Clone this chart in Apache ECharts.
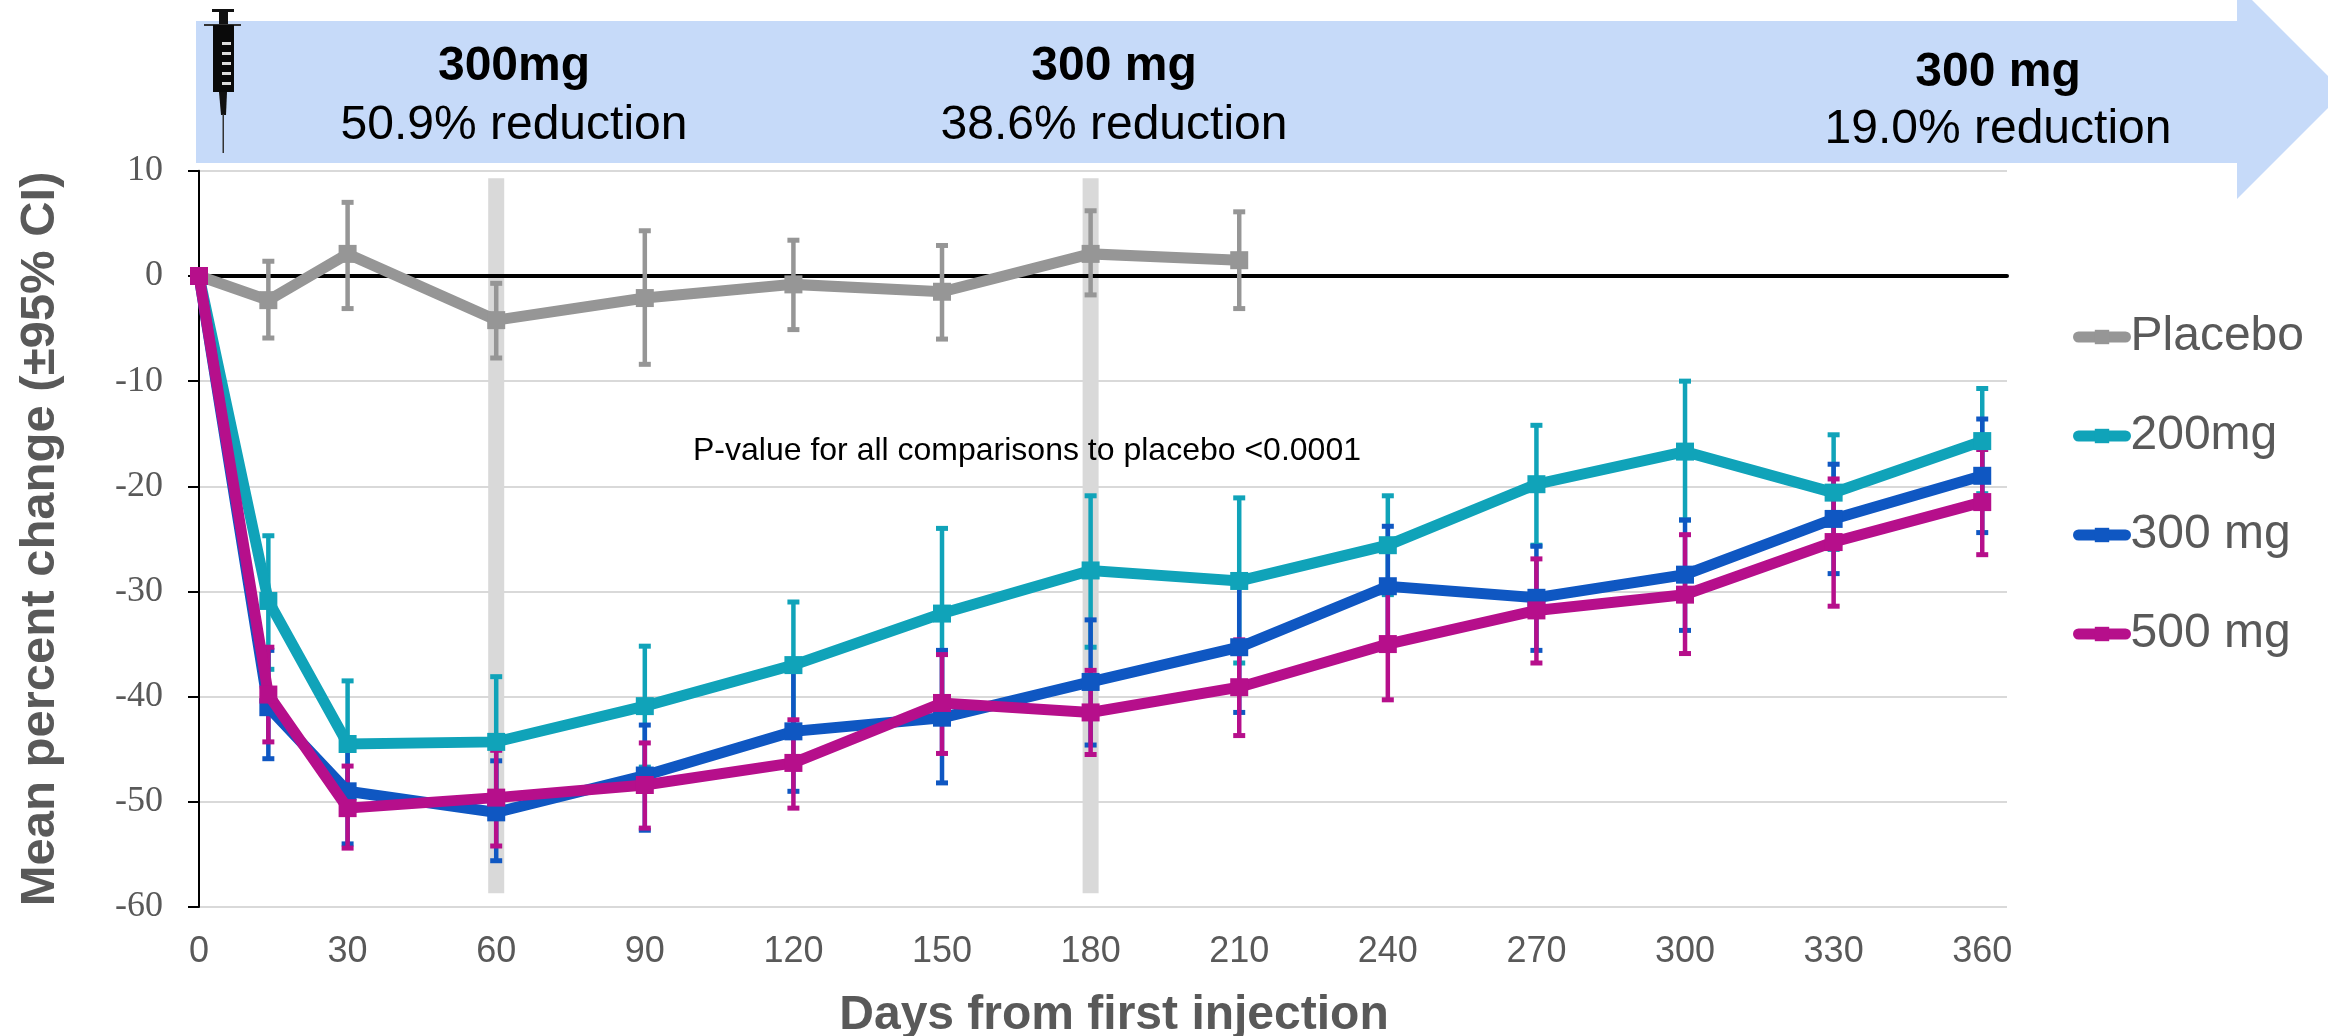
<!DOCTYPE html>
<html>
<head>
<meta charset="utf-8">
<title>Mean percent change</title>
<script src="https://cdn.jsdelivr.net/npm/echarts@6/dist/echarts.min.js"></script>
<style>
  html, body { margin: 0; padding: 0; background: #fff; }
  #chart { width: 2328px; height: 1036px; }
</style>
</head>
<body>
<div id="chart"></div>
<script>
  var allDays = [0, 14, 30, 60, 90, 120, 150, 180, 210, 240, 270, 300, 330, 360];
  var placeboDays = [0, 14, 30, 60, 90, 120, 150, 180, 210];
  var injectionDays = [60, 180];

  var placebo = [0, -2.3, 2.1, -4.2, -2.1, -0.8, -1.5, 2.1, 1.5];
  var placeboUp = [0, 1.4, 7.0, -0.7, 4.3, 3.4, 2.9, 6.2, 6.1];
  var placeboLow = [0, -5.9, -3.1, -7.8, -8.4, -5.1, -6.0, -1.8, -3.1];

  var mg200 = [0, -30.9, -44.5, -44.3, -40.9, -37.0, -32.1, -28.0, -29.0, -25.6, -19.8, -16.7, -20.6, -15.7];
  var mg200Up = [0, -24.7, -38.5, -38.1, -35.2, -31.0, -24.0, -20.9, -21.1, -20.9, -14.2, -10.0, -15.1, -10.7];
  var mg200Low = [0, -37.4, -50.5, -50.5, -46.7, -43.0, -40.0, -35.3, -36.8, -30.3, -25.6, -23.2, -26.0, -20.7];

  var mg300 = [0, -41.0, -49.0, -51.0, -47.5, -43.3, -42.0, -38.6, -35.3, -29.5, -30.6, -28.4, -23.1, -19.0];
  var mg300Up = [0, -35.6, -44.0, -46.1, -42.7, -37.6, -35.6, -32.7, -29.5, -23.8, -25.7, -23.2, -17.9, -13.6];
  var mg300Low = [0, -45.9, -54.0, -55.6, -52.7, -49.0, -48.2, -44.6, -41.5, -35.0, -35.6, -33.7, -28.3, -24.4];

  var mg500 = [0, -39.8, -50.6, -49.6, -48.4, -46.3, -40.6, -41.5, -39.1, -35.0, -31.8, -30.3, -25.3, -21.5];
  var mg500Up = [0, -35.3, -46.6, -45.1, -44.4, -42.2, -36.0, -37.5, -34.6, -29.5, -26.9, -24.6, -19.3, -16.5];
  var mg500Low = [0, -44.3, -54.4, -54.2, -52.5, -50.6, -45.4, -45.5, -43.7, -40.3, -36.8, -35.9, -31.4, -26.5];

  var xTicks = [0, 30, 60, 90, 120, 150, 180, 210, 240, 270, 300, 330, 360];
  var bandTop = 9.3;
  var bandBottom = -58.7;

  var GREY = '#969696';
  var TEAL = '#10A3B9';
  var BLUE = '#0F57C2';
  var MAGENTA = '#B60F8B';
  var TEXT = '#595959';
  var SANS = '"Liberation Sans", Arial, sans-serif';

  function zip(days, a, b) {
    return days.map(function (d, i) {
      return b ? [d, a[i], b[i]] : [d, a[i]];
    });
  }

  // 95% CI whiskers
  function errorSeries(name, color, days, up, low) {
    return {
      type: 'custom',
      name: name + ' CI',
      z: 3,
      silent: true,
      encode: { x: 0, y: [1, 2] },
      data: zip(days, up, low),
      renderItem: function (params, api) {
        var x = api.value(0);
        var top = api.coord([x, api.value(1)]);
        var bot = api.coord([x, api.value(2)]);
        var line = { stroke: color, lineWidth: 4.5 };
        var cap = { stroke: color, lineWidth: 5 };
        return {
          type: 'group',
          children: [
            { type: 'line', shape: { x1: top[0], y1: top[1], x2: bot[0], y2: bot[1] }, style: line },
            { type: 'line', shape: { x1: top[0] - 6, y1: top[1], x2: top[0] + 6, y2: top[1] }, style: cap },
            { type: 'line', shape: { x1: bot[0] - 6, y1: bot[1], x2: bot[0] + 6, y2: bot[1] }, style: cap }
          ]
        };
      }
    };
  }

  function lineSeries(name, color, days, vals, z) {
    return {
      type: 'line',
      name: name,
      z: z,
      data: zip(days, vals),
      symbol: 'rect',
      symbolSize: 18,
      showSymbol: true,
      showAllSymbol: true,
      itemStyle: { color: color },
      lineStyle: { color: color, width: 11, cap: 'round', join: 'miter' },
      animation: false
    };
  }

  var chart = echarts.init(document.getElementById('chart'), null, { renderer: 'canvas' });

  chart.setOption({
    animation: false,
    backgroundColor: '#fff',
    textStyle: { fontFamily: SANS },
    grid: { left: 199, right: 321, top: 170.8, bottom: 129, containLabel: false, outerBoundsMode: 'none' },
    legend: {
      orient: 'vertical',
      left: 2073,
      top: 313,
      padding: 0,
      itemWidth: 47,
      itemHeight: 18,
      itemGap: 51,
      symbolSize: 18,
      lineStyle: { width: 11, cap: 'round' },
      data: ['Placebo', '200mg', '300 mg', '500 mg'],
      textStyle: { fontSize: 48, color: TEXT, fontFamily: SANS }
    },
    xAxis: [
      {
        type: 'value',
        min: 0,
        max: 365,
        interval: 30,
        name: 'Days from first injection',
        nameLocation: 'middle',
        nameGap: 85,
        nameTextStyle: { fontSize: 48, fontWeight: 'bold', color: TEXT, fontFamily: SANS, padding: [0, 0, 0, 22] },
        axisLine: { show: false, onZero: false },
        axisTick: { show: false },
        splitLine: { show: false },
        axisLabel: {
          fontSize: 36,
          color: TEXT,
          margin: 27,
          fontFamily: SANS,
          customValues: xTicks
        }
      },
      {
        // the zero line that crosses the plot
        type: 'value',
        min: 0,
        max: 365,
        interval: 30,
        z: 2,
        position: 'bottom',
        axisLine: { show: true, onZero: true, lineStyle: { color: '#000', width: 4 } },
        axisTick: { show: false },
        axisLabel: { show: false },
        splitLine: { show: false }
      }
    ],
    yAxis: {
      type: 'value',
      min: -60,
      max: 10,
      interval: 10,
      name: 'Mean percent change (\u00B195% CI)',
      nameLocation: 'middle',
      nameGap: 134,
      nameTextStyle: { fontSize: 49, fontWeight: 'bold', color: TEXT, fontFamily: SANS },
      axisLine: { show: true, lineStyle: { color: '#000', width: 2 } },
      axisTick: { show: true, length: 11, lineStyle: { color: '#000', width: 2 } },
      splitLine: { show: true, lineStyle: { color: '#D9D9D9', width: 2 } },
      axisLabel: { fontSize: 36, color: TEXT, margin: 36, fontFamily: '"Liberation Serif", serif' }
    },
    series: [
      {
        type: 'custom',
        name: 'injection',
        z: 1,
        silent: true,
        encode: { x: 0, y: [1, 2] },
        data: injectionDays.map(function (d) { return [d, bandTop, bandBottom]; }),
        renderItem: function (params, api) {
          var top = api.coord([api.value(0), api.value(1)]);
          var bot = api.coord([api.value(0), api.value(2)]);
          return {
            type: 'rect',
            shape: { x: top[0] - 8, y: top[1], width: 16, height: bot[1] - top[1] },
            style: { fill: '#D9D9D9' }
          };
        }
      },
      errorSeries('Placebo', GREY, placeboDays.slice(1), placeboUp.slice(1), placeboLow.slice(1)),
      errorSeries('200mg', TEAL, allDays.slice(1), mg200Up.slice(1), mg200Low.slice(1)),
      errorSeries('300 mg', BLUE, allDays.slice(1), mg300Up.slice(1), mg300Low.slice(1)),
      errorSeries('500 mg', MAGENTA, allDays.slice(1), mg500Up.slice(1), mg500Low.slice(1)),
      lineSeries('Placebo', GREY, placeboDays, placebo, 4),
      lineSeries('200mg', TEAL, allDays, mg200, 5),
      lineSeries('300 mg', BLUE, allDays, mg300, 6),
      lineSeries('500 mg', MAGENTA, allDays, mg500, 7)
    ],
    graphic: [
      {
        // dosing arrow
        type: 'polygon',
        z: 0,
        shape: { points: [[196, 21], [2237, 21], [2237, -15], [2344, 92], [2237, 199], [2237, 163], [196, 163]] },
        style: { fill: '#C6DAF9' }
      },
      { type: 'text', x: 514, y: 67, z: 10, style: { text: '300mg', font: 'bold 48px ' + SANS, fill: '#000', textAlign: 'center', textVerticalAlign: 'middle' } },
      { type: 'text', x: 514, y: 126, z: 10, style: { text: '50.9% reduction', font: '48px ' + SANS, fill: '#000', textAlign: 'center', textVerticalAlign: 'middle' } },
      { type: 'text', x: 1114, y: 67, z: 10, style: { text: '300 mg', font: 'bold 48px ' + SANS, fill: '#000', textAlign: 'center', textVerticalAlign: 'middle' } },
      { type: 'text', x: 1114, y: 126, z: 10, style: { text: '38.6% reduction', font: '48px ' + SANS, fill: '#000', textAlign: 'center', textVerticalAlign: 'middle' } },
      { type: 'text', x: 1998, y: 73, z: 10, style: { text: '300 mg', font: 'bold 48px ' + SANS, fill: '#000', textAlign: 'center', textVerticalAlign: 'middle' } },
      { type: 'text', x: 1998, y: 130, z: 10, style: { text: '19.0% reduction', font: '48px ' + SANS, fill: '#000', textAlign: 'center', textVerticalAlign: 'middle' } },
      { type: 'text', x: 1027, y: 451, z: 10, style: { text: 'P-value for all comparisons to placebo <0.0001', font: '32px ' + SANS, fill: '#000', textAlign: 'center', textVerticalAlign: 'middle' } },
      // syringe
      { type: 'rect', z: 10, shape: { x: 212, y: 9, width: 22, height: 3 }, style: { fill: '#111' } },
      { type: 'rect', z: 10, shape: { x: 219, y: 11, width: 9, height: 14 }, style: { fill: '#111' } },
      { type: 'rect', z: 10, shape: { x: 204, y: 24, width: 37, height: 2 }, style: { fill: '#333' } },
      { type: 'rect', z: 10, shape: { x: 213, y: 25, width: 21, height: 67 }, style: { fill: '#0a0a0a' } },
      { type: 'rect', z: 10, shape: { x: 222, y: 42, width: 9, height: 3 }, style: { fill: '#ddd' } },
      { type: 'rect', z: 10, shape: { x: 222, y: 52, width: 9, height: 3 }, style: { fill: '#ddd' } },
      { type: 'rect', z: 10, shape: { x: 222, y: 62, width: 9, height: 3 }, style: { fill: '#ddd' } },
      { type: 'rect', z: 10, shape: { x: 222, y: 72, width: 9, height: 3 }, style: { fill: '#ddd' } },
      { type: 'rect', z: 10, shape: { x: 222, y: 82, width: 9, height: 3 }, style: { fill: '#ddd' } },
      { type: 'polygon', z: 10, shape: { points: [[219, 92], [227, 92], [226, 115], [221, 115]] }, style: { fill: '#111' } },
      { type: 'rect', z: 10, shape: { x: 222.5, y: 114, width: 1.5, height: 39 }, style: { fill: '#333' } }
    ]
  });
</script>
</body>
</html>
